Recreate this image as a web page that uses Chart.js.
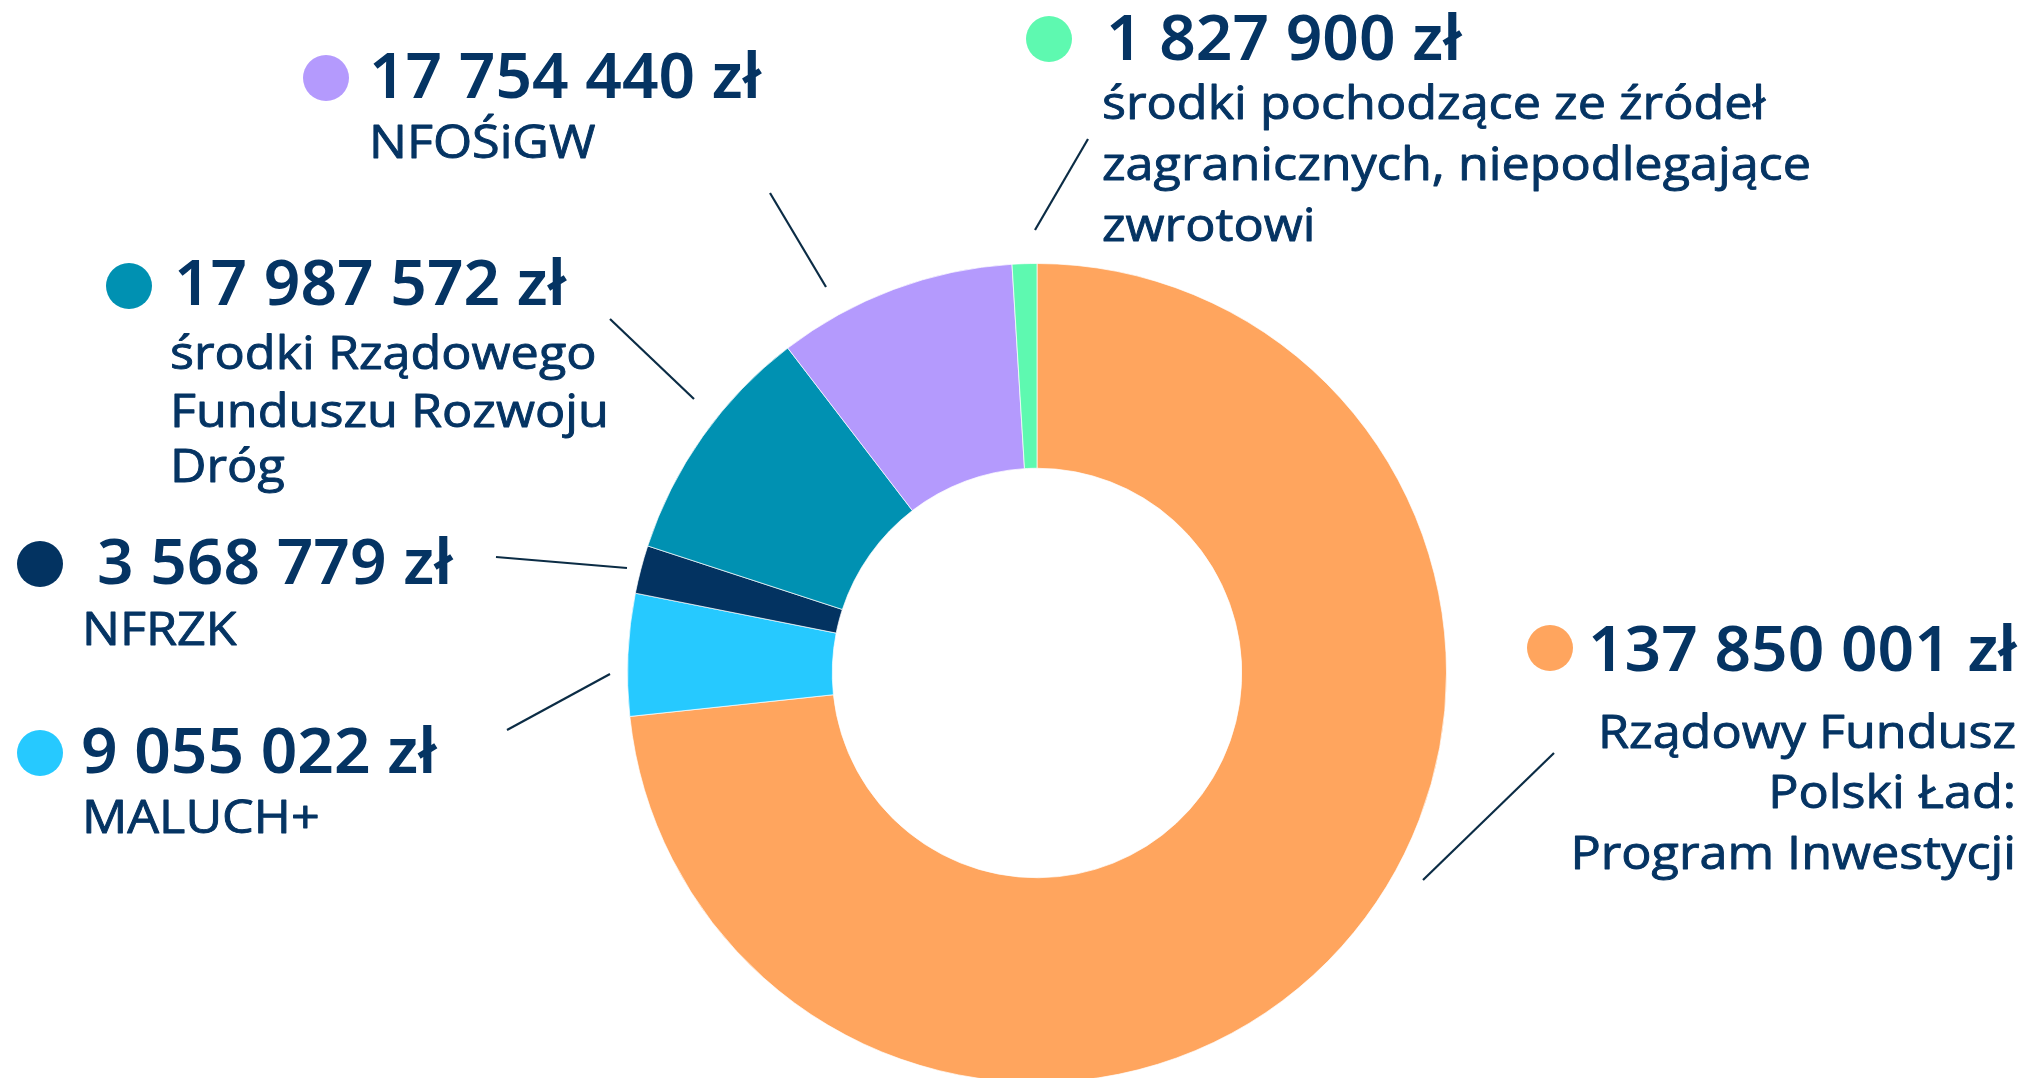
<!DOCTYPE html>
<html lang="pl">
<head>
<meta charset="utf-8">
<title>Źródła finansowania</title>
<script src="https://cdn.jsdelivr.net/npm/chart.js@4/dist/chart.umd.min.js"></script>
<style>
  html, body { margin: 0; padding: 0; background: #ffffff; overflow: hidden; }
  #wrap { position: relative; width: 2042px; height: 1100px; }
  #chart { display: block; }
</style>
</head>
<body>
<div id="wrap"><canvas id="chart" width="2042" height="1100"></canvas></div>
<script>
// ---- data ----
const categories = [
  "Rządowy Fundusz Polski Ład: Program Inwestycji",
  "MALUCH+",
  "NFRZK",
  "środki Rządowego Funduszu Rozwoju Dróg",
  "NFOŚiGW",
  "środki pochodzące ze źródeł zagranicznych, niepodlegające zwrotowi"
];
const values = [137850001, 9055022, 3568779, 17987572, 17754440, 1827900];
const sliceColors = ["#FFA55E", "#26C9FF", "#033361", "#0091B2", "#B49AFD", "#5EF9B0"];
// label text, line by line, as it is wrapped in the picture
const labelLines = [
  ["Rządowy Fundusz", "Polski Ład:", "Program Inwestycji"],
  ["MALUCH+"],
  ["NFRZK"],
  ["środki Rządowego", "Funduszu Rozwoju", "Dróg"],
  ["NFOŚiGW"],
  ["środki pochodzące ze źródeł", "zagranicznych, niepodlegające", "zwrotowi"]
];

// ---- layout of the annotations (positions only) ----
const labelLayout = [
  { dot: [1550, 648], valueX: 1588, valueY: 671, align: "right", subX: 2016, subY: [748, 808, 869], line: [1423, 880, 1554, 753] },
  { dot: [40, 753],   valueX: 81,   valueY: 773, align: "left",  subX: 82,   subY: [833],           line: [507, 730, 610, 674] },
  { dot: [40, 564],   valueX: 97,   valueY: 584, align: "left",  subX: 82,   subY: [645],           line: [496, 557, 627, 568] },
  { dot: [129, 286],  valueX: 174,  valueY: 305, align: "left",  subX: 170,  subY: [369, 427, 482], line: [610, 319, 694, 399] },
  { dot: [326, 78],   valueX: 369,  valueY: 98,  align: "left",  subX: 369,  subY: [158],           line: [770, 193, 826, 287] },
  { dot: [1049, 39],  valueX: 1106, valueY: 60,  align: "left",  subX: 1102, subY: [119, 180, 241], line: [1035, 230, 1088, 139] }
];
const textColor = "#053463";
const leaderColor = "#0B2C45";
const valueFont = "600 64px 'Noto Sans', 'Open Sans', sans-serif";
const subFamily = "46px 'Open Sans', 'Noto Sans', sans-serif";
const subFont = "500 " + subFamily;
const subRefLine = "zagranicznych, niepodlegające";
const subRefWidth = 709;   // width of that line in the picture
const dotRadius = 23;

function formatZl(v) {
  return String(v).replace(/\B(?=(\d{3})+(?!\d))/g, " ") + " zł";
}

const labelsPlugin = {
  id: "outsideLabels",
  afterDraw(chart) {
    const ctx = chart.ctx;
    const ds = chart.data.datasets[0];
    ctx.save();
    // calibrate sub-text width and weight
    ctx.font = "400 " + subFamily;
    const wRegular = ctx.measureText(subRefLine).width;
    ctx.font = subFont;
    const wMedium = ctx.measureText(subRefLine).width;
    const hScale = subRefWidth / wMedium;
    const needStroke = Math.abs(wMedium - wRegular) < 0.5;

    labelLayout.forEach((lay, i) => {
      // leader line
      ctx.beginPath();
      ctx.strokeStyle = leaderColor;
      ctx.lineWidth = 2.2;
      ctx.moveTo(lay.line[0], lay.line[1]);
      ctx.lineTo(lay.line[2], lay.line[3]);
      ctx.stroke();
      // dot
      ctx.beginPath();
      ctx.fillStyle = ds.backgroundColor[i];
      ctx.arc(lay.dot[0], lay.dot[1], dotRadius, 0, Math.PI * 2);
      ctx.fill();
      // value
      ctx.fillStyle = textColor;
      ctx.textBaseline = "alphabetic";
      ctx.textAlign = "left";
      ctx.font = valueFont;
      ctx.fillText(formatZl(ds.data[i]), lay.valueX, lay.valueY);
      // name lines
      ctx.font = subFont;
      ctx.textAlign = lay.align;
      ctx.strokeStyle = textColor;
      ctx.lineWidth = 0.9;
      ctx.lineJoin = "round";
      labelLines[i].forEach((t, k) => {
        ctx.save();
        ctx.translate(lay.subX, lay.subY[k]);
        ctx.scale(hScale, 1);
        ctx.fillText(t, 0, 0);
        if (needStroke) ctx.strokeText(t, 0, 0);
        ctx.restore();
      });
    });
    ctx.restore();
  }
};

new Chart(document.getElementById("chart"), {
  type: "doughnut",
  data: {
    labels: categories,
    datasets: [{
      data: values,
      backgroundColor: sliceColors,
      borderColor: "rgba(255,255,255,0.7)",
      borderWidth: 1,
      hoverOffset: 0
    }]
  },
  options: {
    responsive: false,
    animation: false,
    cutout: "50%",
    rotation: 0,
    layout: { padding: { left: 627, right: 595, top: 263, bottom: 17 } },
    plugins: {
      legend: { display: false },
      tooltip: { enabled: false }
    }
  },
  plugins: [labelsPlugin]
});
</script>
</body>
</html>
